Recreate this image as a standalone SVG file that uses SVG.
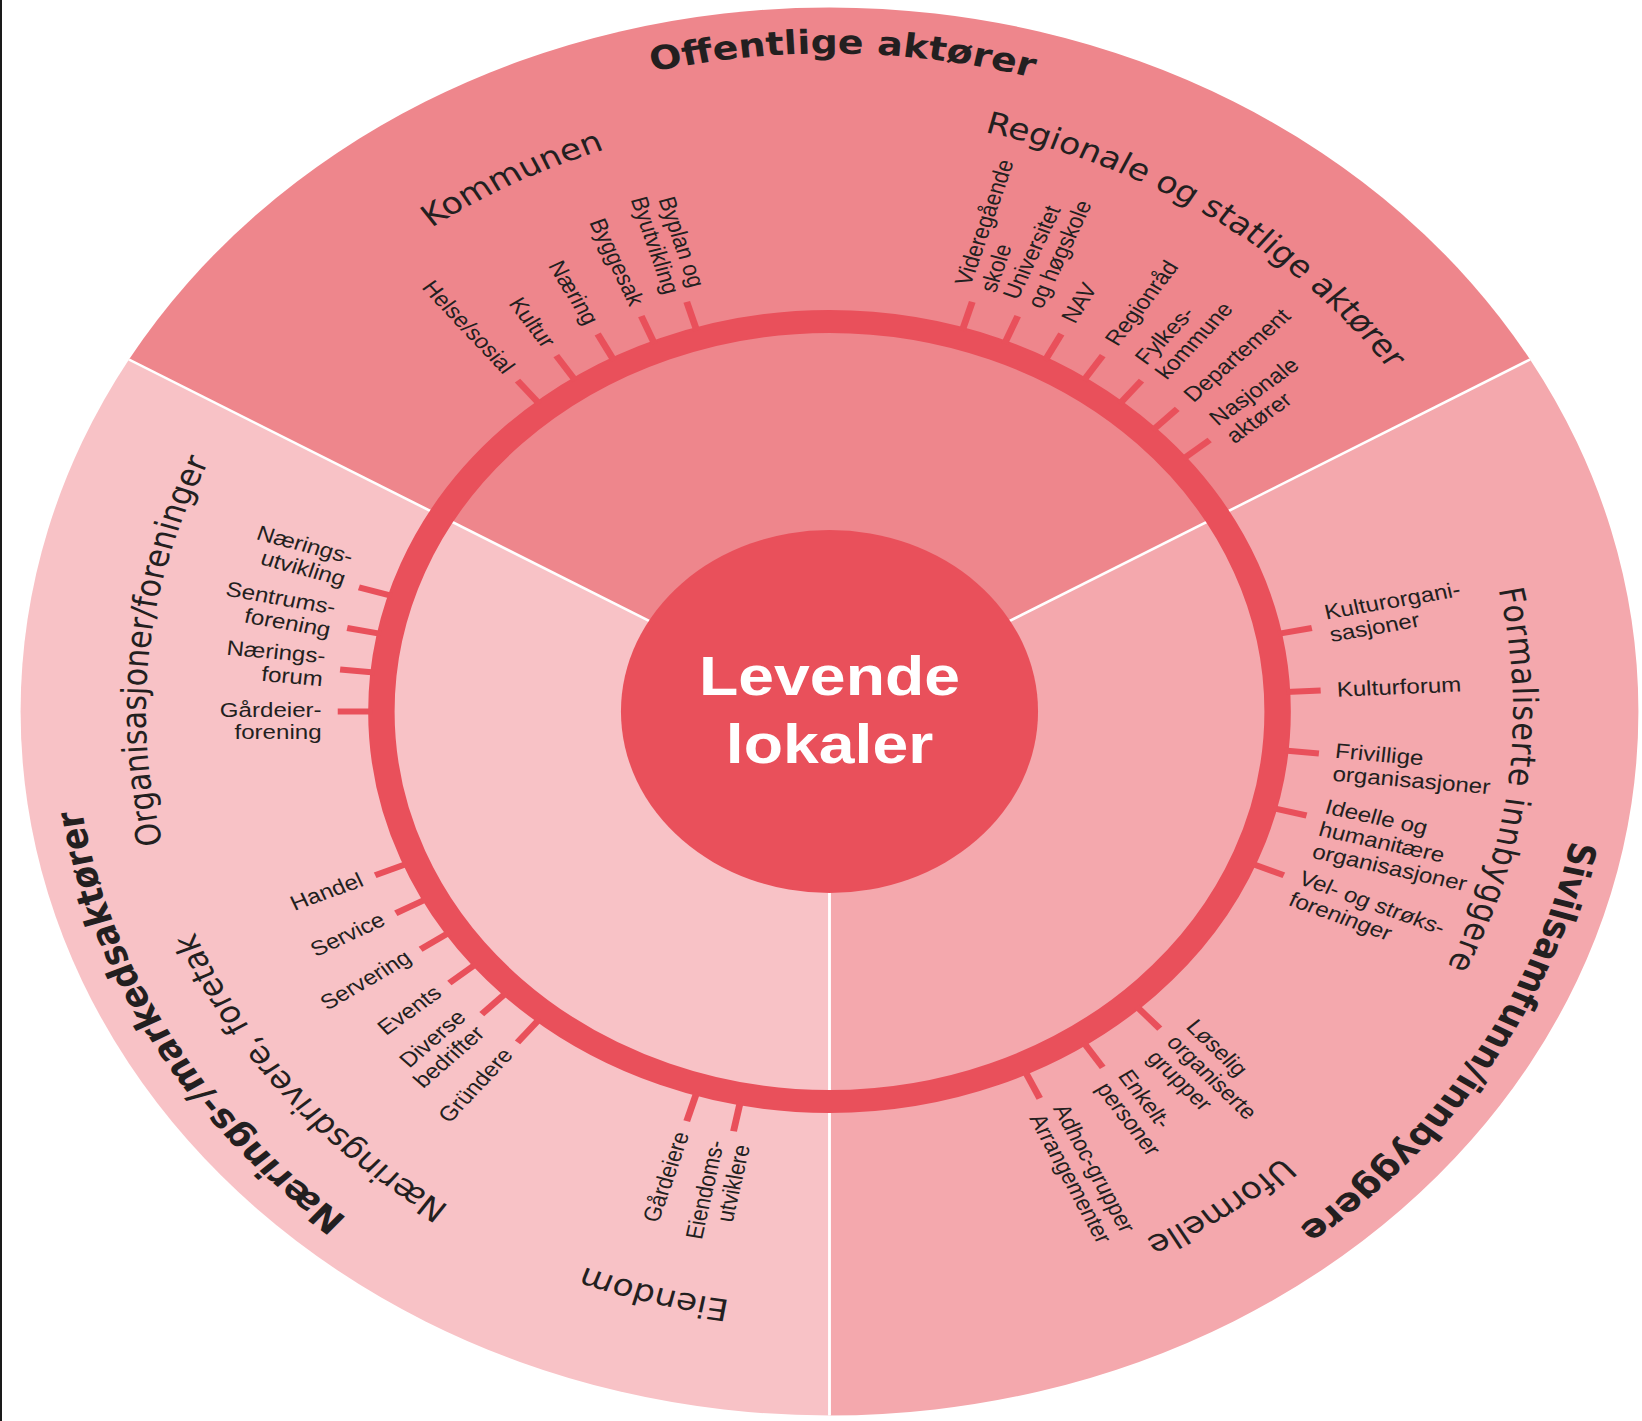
<svg xmlns="http://www.w3.org/2000/svg" xmlns:xlink="http://www.w3.org/1999/xlink" width="1642" height="1421" viewBox="0 0 1642 1421">
<style>
.t{font-family:"Liberation Sans",Arial,sans-serif;font-size:21px;fill:#231f20}
.e{text-anchor:end}
.h{font-family:"DejaVu Sans",sans-serif;font-size:30px;fill:#231f20}
.hb{font-family:"DejaVu Sans",sans-serif;font-size:33px;font-weight:bold;fill:#231f20}
.tk{stroke:#e9505b;stroke-width:6}
.dv{stroke:#ffffff;stroke-width:2.5}
.c{font-family:"Liberation Sans",Arial,sans-serif;font-size:56px;font-weight:bold;fill:#ffffff;text-anchor:middle}
</style>
<defs>
<path id="pOff" d="M -614.3 -235.8 A 658 658 0 0 1 622.2 -214.2"/>
<path id="pSiv" d="M 578.3 -314 A 658 658 0 0 1 -17.2 657.8"/>
<path id="pNar" d="M -5.7 658 A 658 658 0 0 1 -566.9 -333.9"/>
<path id="pKom" d="M -594.4 -27 A 595 595 0 0 1 320.6 -501.3"/>
<path id="pReg" d="M -260.8 -534.8 A 595 595 0 0 1 593.5 41.5"/>
<path id="pFor" d="M 356.4 -476.4 A 595 595 0 0 1 234.4 546.9"/>
<path id="pUfo" d="M 593.2 -46.7 A 595 595 0 0 1 -256.1 537"/>
<path id="pEie" d="M 422.9 418.5 A 595 595 0 0 1 -573.9 157"/>
<path id="pNdr" d="M 93.1 587.7 A 595 595 0 0 1 -555.5 -213.2"/>
<path id="pOrg" d="M -349.7 481.4 A 595 595 0 0 1 -242 -543.6"/>
</defs>
<rect x="0" y="0" width="1642" height="1421" fill="#ffffff"/>
<rect x="0" y="0" width="2" height="1421" fill="#1a1a1a"/>
<g transform="translate(829.5 711.5) scale(1.149 1)">
  <g id="sectors">
    <path id="sector-offentlige" d="M0 0 L -609.7 -352 A 704 704 0 0 1 609.7 -352 Z" fill="#ee868c"/>
    <path id="sector-sivilsamfunn" d="M0 0 L 609.7 -352 A 704 704 0 0 1 0 704 Z" fill="#f4a8ad"/>
    <path id="sector-naering" d="M0 0 L 0 704 A 704 704 0 0 1 -609.7 -352 Z" fill="#f8c2c6"/>
    <line class="dv" x1="0" y1="0" x2="-609.7" y2="-352"/>
    <line class="dv" x1="0" y1="0" x2="609.7" y2="-352"/>
    <line class="dv" x1="0" y1="0" x2="0" y2="704"/>
  </g>
  <g id="ring">
    <circle cx="0" cy="0" r="390" fill="none" stroke="#e9505b" stroke-width="23"/>
  </g>
  <g id="connectors">
    <line class="tk" x1="398" y1="0" x2="428" y2="0" transform="rotate(-129.375)"/>
    <line class="tk" x1="398" y1="0" x2="428" y2="0" transform="rotate(-123.75)"/>
    <line class="tk" x1="398" y1="0" x2="428" y2="0" transform="rotate(-118.125)"/>
    <line class="tk" x1="398" y1="0" x2="428" y2="0" transform="rotate(-112.5)"/>
    <line class="tk" x1="398" y1="0" x2="428" y2="0" transform="rotate(-106.875)"/>
    <line class="tk" x1="398" y1="0" x2="428" y2="0" transform="rotate(-73.125)"/>
    <line class="tk" x1="398" y1="0" x2="428" y2="0" transform="rotate(-67.5)"/>
    <line class="tk" x1="398" y1="0" x2="428" y2="0" transform="rotate(-61.875)"/>
    <line class="tk" x1="398" y1="0" x2="428" y2="0" transform="rotate(-56.25)"/>
    <line class="tk" x1="398" y1="0" x2="428" y2="0" transform="rotate(-50.625)"/>
    <line class="tk" x1="398" y1="0" x2="428" y2="0" transform="rotate(-45)"/>
    <line class="tk" x1="398" y1="0" x2="428" y2="0" transform="rotate(-39.375)"/>
    <line class="tk" x1="398" y1="0" x2="428" y2="0" transform="rotate(-11.25)"/>
    <line class="tk" x1="398" y1="0" x2="428" y2="0" transform="rotate(-2.8125)"/>
    <line class="tk" x1="398" y1="0" x2="428" y2="0" transform="rotate(5.625)"/>
    <line class="tk" x1="398" y1="0" x2="428" y2="0" transform="rotate(14.0625)"/>
    <line class="tk" x1="398" y1="0" x2="428" y2="0" transform="rotate(22.5)"/>
    <line class="tk" x1="398" y1="0" x2="428" y2="0" transform="rotate(47.8125)"/>
    <line class="tk" x1="398" y1="0" x2="428" y2="0" transform="rotate(56.25)"/>
    <line class="tk" x1="398" y1="0" x2="428" y2="0" transform="rotate(64.6875)"/>
    <line class="tk" x1="398" y1="0" x2="428" y2="0" transform="rotate(101.25)"/>
    <line class="tk" x1="398" y1="0" x2="428" y2="0" transform="rotate(106.875)"/>
    <line class="tk" x1="398" y1="0" x2="428" y2="0" transform="rotate(129.375)"/>
    <line class="tk" x1="398" y1="0" x2="428" y2="0" transform="rotate(135)"/>
    <line class="tk" x1="398" y1="0" x2="428" y2="0" transform="rotate(140.625)"/>
    <line class="tk" x1="398" y1="0" x2="428" y2="0" transform="rotate(146.25)"/>
    <line class="tk" x1="398" y1="0" x2="428" y2="0" transform="rotate(151.875)"/>
    <line class="tk" x1="398" y1="0" x2="428" y2="0" transform="rotate(157.5)"/>
    <line class="tk" x1="398" y1="0" x2="428" y2="0" transform="rotate(180)"/>
    <line class="tk" x1="398" y1="0" x2="428" y2="0" transform="rotate(185.625)"/>
    <line class="tk" x1="398" y1="0" x2="428" y2="0" transform="rotate(191.25)"/>
    <line class="tk" x1="398" y1="0" x2="428" y2="0" transform="rotate(196.875)"/>
  </g>
  <g id="center">
    <circle cx="0" cy="0" r="181.5" fill="#e9505b"/>
    <text class="c" x="0" y="-16.5">Levende</text>
    <text class="c" x="0" y="51">lokaler</text>
  </g>
  <g id="titles">
    <text class="hb" id="title-offentlige"><textPath href="#pOff" xlink:href="#pOff" startOffset="50%" text-anchor="middle">Offentlige aktører</textPath></text>
    <text class="hb" id="title-sivilsamfunn"><textPath href="#pSiv" xlink:href="#pSiv" startOffset="50%" text-anchor="middle">Sivilsamfunn/innbyggere</textPath></text>
    <text class="hb" id="title-naering"><textPath href="#pNar" xlink:href="#pNar" startOffset="50%" text-anchor="middle">Nærings-/markedsaktører</textPath></text>
    <text class="h" id="title-kommunen"><textPath href="#pKom" xlink:href="#pKom" startOffset="50%" text-anchor="middle">Kommunen</textPath></text>
    <text class="h" id="title-regionale"><textPath href="#pReg" xlink:href="#pReg" startOffset="50%" text-anchor="middle">Regionale og statlige aktører</textPath></text>
    <text class="h" id="title-formaliserte" letter-spacing="0.9"><textPath href="#pFor" xlink:href="#pFor" startOffset="50%" text-anchor="middle">Formaliserte innbyggere</textPath></text>
    <text class="h" id="title-uformelle"><textPath href="#pUfo" xlink:href="#pUfo" startOffset="50%" text-anchor="middle">Uformelle</textPath></text>
    <text class="h" id="title-eiendom"><textPath href="#pEie" xlink:href="#pEie" startOffset="50%" text-anchor="middle">Eiendom</textPath></text>
    <text class="h" id="title-naeringsdrivere"><textPath href="#pNdr" xlink:href="#pNdr" startOffset="50%" text-anchor="middle">Næringsdrivere, foretak</textPath></text>
    <text class="h" id="title-organisasjoner"><textPath href="#pOrg" xlink:href="#pOrg" startOffset="50%" text-anchor="middle">Organisasjoner/foreninger</textPath></text>
  </g>
  <g id="label-helse" transform="rotate(50.625)"><text class="t e" x="-440" y="6">Helse/sosial</text></g>
  <g id="label-kultur" transform="rotate(56.25)"><text class="t e" x="-440" y="6">Kultur</text></g>
  <g id="label-naering-k" transform="rotate(61.875)"><text class="t e" x="-440" y="6">Næring</text></g>
  <g id="label-byggesak" transform="rotate(67.5)"><text class="t e" x="-440" y="6">Byggesak</text></g>
  <g id="label-byplan" transform="rotate(73.125)"><text class="t e" x="-440" y="-6">Byplan og</text><text class="t e" x="-440" y="17">Byutvikling</text></g>
  <g id="label-vgs" transform="rotate(-73.125)"><text class="t" x="442" y="-6">Videregående</text><text class="t" x="442" y="17">skole</text></g>
  <g id="label-uni" transform="rotate(-67.5)"><text class="t" x="442" y="-6">Universitet</text><text class="t" x="442" y="17">og høgskole</text></g>
  <g id="label-nav" transform="rotate(-61.875)"><text class="t" x="442" y="6">NAV</text></g>
  <g id="label-regionrad" transform="rotate(-56.25)"><text class="t" x="442" y="6">Regionråd</text></g>
  <g id="label-fylkes" transform="rotate(-50.625)"><text class="t" x="442" y="-6">Fylkes-</text><text class="t" x="442" y="17">kommune</text></g>
  <g id="label-departement" transform="rotate(-45)"><text class="t" x="442" y="6">Departement</text></g>
  <g id="label-nasjonale" transform="rotate(-39.375)"><text class="t" x="442" y="-6">Nasjonale</text><text class="t" x="442" y="17">aktører</text></g>
  <g id="label-kulturorg" transform="rotate(-11.25)"><text class="t" x="442" y="-6">Kulturorgani-</text><text class="t" x="442" y="17">sasjoner</text></g>
  <g id="label-kulturforum" transform="rotate(-2.8125)"><text class="t" x="442" y="7">Kulturforum</text></g>
  <g id="label-frivillige" transform="rotate(5.625)"><text class="t" x="442" y="3">Frivillige</text><text class="t" x="442" y="26">organisasjoner</text></g>
  <g id="label-ideelle" transform="rotate(14.0625)"><text class="t" x="442" y="-6">Ideelle og</text><text class="t" x="442" y="17">humanitære</text><text class="t" x="442" y="40">organisasjoner</text></g>
  <g id="label-vel" transform="rotate(22.5)"><text class="t" x="442" y="3">Vel- og strøks-</text><text class="t" x="442" y="26">foreninger</text></g>
  <g id="label-loselig" transform="rotate(47.8125)"><text class="t" x="442" y="-17">Løselig</text><text class="t" x="442" y="6">organiserte</text><text class="t" x="442" y="29">grupper</text></g>
  <g id="label-enkelt" transform="rotate(56.25)"><text class="t" x="442" y="-6">Enkelt-</text><text class="t" x="442" y="17">personer</text></g>
  <g id="label-adhoc" transform="rotate(64.6875)"><text class="t" x="442" y="-6">Adhoc-grupper</text><text class="t" x="442" y="17">Arrangementer</text></g>
  <g id="label-eiendomsutviklere" transform="rotate(281.25)"><text class="t e" x="-440" y="-6">Eiendoms-</text><text class="t e" x="-440" y="17">utviklere</text></g>
  <g id="label-gardeiere" transform="rotate(286.875)"><text class="t e" x="-440" y="6">Gårdeiere</text></g>
  <g id="label-grundere" transform="rotate(309.375)"><text class="t e" x="-440" y="6">Gründere</text></g>
  <g id="label-diverse" transform="rotate(315)"><text class="t e" x="-440" y="-6">Diverse</text><text class="t e" x="-440" y="17">bedrifter</text></g>
  <g id="label-events" transform="rotate(320.625)"><text class="t e" x="-440" y="6">Events</text></g>
  <g id="label-servering" transform="rotate(326.25)"><text class="t e" x="-440" y="6">Servering</text></g>
  <g id="label-service" transform="rotate(331.875)"><text class="t e" x="-440" y="6">Service</text></g>
  <g id="label-handel" transform="rotate(337.5)"><text class="t e" x="-440" y="6">Handel</text></g>
  <g id="label-gardeierforening" transform="rotate(0)"><text class="t e" x="-442" y="5">Gårdeier-</text><text class="t e" x="-442" y="28">forening</text></g>
  <g id="label-naeringsforum" transform="rotate(5.625)"><text class="t e" x="-442" y="-5">Nærings-</text><text class="t e" x="-442" y="18">forum</text></g>
  <g id="label-sentrumsforening" transform="rotate(11.25)"><text class="t e" x="-442" y="-11">Sentrums-</text><text class="t e" x="-442" y="12">forening</text></g>
  <g id="label-naeringsutvikling" transform="rotate(16.875)"><text class="t e" x="-442" y="-20">Nærings-</text><text class="t e" x="-442" y="3">utvikling</text></g>
</g>
</svg>
